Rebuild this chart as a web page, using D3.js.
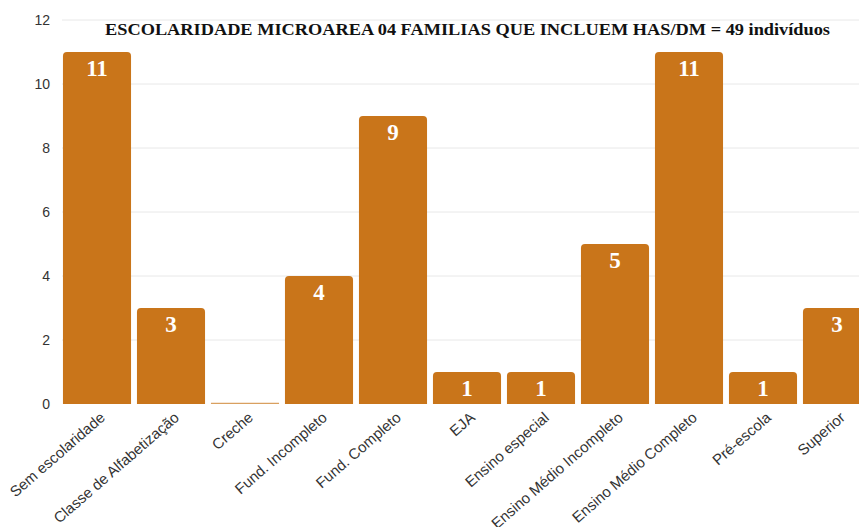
<!DOCTYPE html>
<html>
<head>
<meta charset="utf-8">
<script src="https://cdn.jsdelivr.net/npm/d3@7"></script>
<style>
  html, body { margin: 0; padding: 0; background: #fff; }
  svg { display: block; }
</style>
</head>
<body>
<div id="chart"></div>
<script>
const categories = [
  "Sem escolaridade", "Classe de Alfabetização", "Creche", "Fund. Incompleto",
  "Fund. Completo", "EJA", "Ensino especial", "Ensino Médio Incompleto",
  "Ensino Médio Completo", "Pré-escola", "Superior"
];
const values = [11, 3, 0, 4, 9, 1, 1, 5, 11, 1, 3];
const yTicks = [0, 2, 4, 6, 8, 10, 12];
const title = "ESCOLARIDADE MICROAREA 04 FAMILIAS QUE INCLUEM HAS/DM = 49 indivíduos";

const W = 859, H = 527;
const BAR = "#C9751A";

const svg = d3.select("#chart").append("svg")
  .attr("width", W).attr("height", H);

const x = d3.scaleBand().domain(categories).range([60, 874]).paddingInner(0.08).paddingOuter(0.04);
const y = d3.scaleLinear().domain([0, 12]).range([404, 20]);

// gridlines
svg.append("g").selectAll("line").data(yTicks.filter(t => t > 0)).join("line")
  .attr("x1", 62).attr("x2", W)
  .attr("y1", d => y(d)).attr("y2", d => y(d))
  .attr("stroke", "#e8e8e8").attr("stroke-width", 1);

// y axis labels
const yAxis = svg.append("g").attr("transform", "translate(50,0)")
  .call(d3.axisLeft(y).tickValues(yTicks).tickSize(0).tickPadding(0));
yAxis.select(".domain").remove();
yAxis.selectAll("text")
  .style("font-family", "'Liberation Sans', Arial, sans-serif")
  .style("font-size", "14px").style("fill", "#333");

// bars with rounded top corners
function barPath(x0, w, yTop, yBase, r) {
  const h = yBase - yTop;
  r = Math.min(r, h, w / 2);
  return `M${x0},${yBase}V${yTop + r}Q${x0},${yTop} ${x0 + r},${yTop}` +
         `H${x0 + w - r}Q${x0 + w},${yTop} ${x0 + w},${yTop + r}V${yBase}Z`;
}

svg.append("g").selectAll("path").data(categories).join("path")
  .attr("d", (c, i) => {
    const v = values[i];
    const top = v === 0 ? y(0) - 1.2 : y(v);
    return barPath(x(c), x.bandwidth(), top, y(0), v === 0 ? 0 : 4);
  })
  .attr("fill", (c, i) => values[i] === 0 ? "#D9A060" : BAR);

// value labels
svg.append("g").selectAll("text").data(categories.filter((c, i) => values[i] > 0)).join("text")
  .attr("x", c => x(c) + x.bandwidth() / 2)
  .attr("y", c => y(values[categories.indexOf(c)]) + 24)
  .attr("text-anchor", "middle")
  .style("font-family", "'Liberation Serif', 'Times New Roman', serif")
  .style("font-weight", "bold").style("font-size", "23px").style("fill", "#fff")
  .text(c => values[categories.indexOf(c)]);

// x labels (the longest ones run off the bottom edge, as in the source image)
svg.append("g").selectAll("text").data(categories).join("text")
  .attr("transform", c => `translate(${x(c) + x.bandwidth() / 2 + 9},${y(0) + 15}) rotate(-41)`)
  .attr("text-anchor", "end")
  .style("font-family", "'Liberation Sans', Arial, sans-serif")
  .style("font-size", "15px").style("fill", "#333")
  .text(c => c);

// title
svg.append("text")
  .attr("x", 105).attr("y", 35)
  .attr("textLength", 725).attr("lengthAdjust", "spacingAndGlyphs")
  .style("font-family", "'Liberation Serif', 'Times New Roman', serif")
  .style("font-weight", "bold").style("font-size", "17px").style("fill", "#111")
  .text(title);
</script>
</body>
</html>
